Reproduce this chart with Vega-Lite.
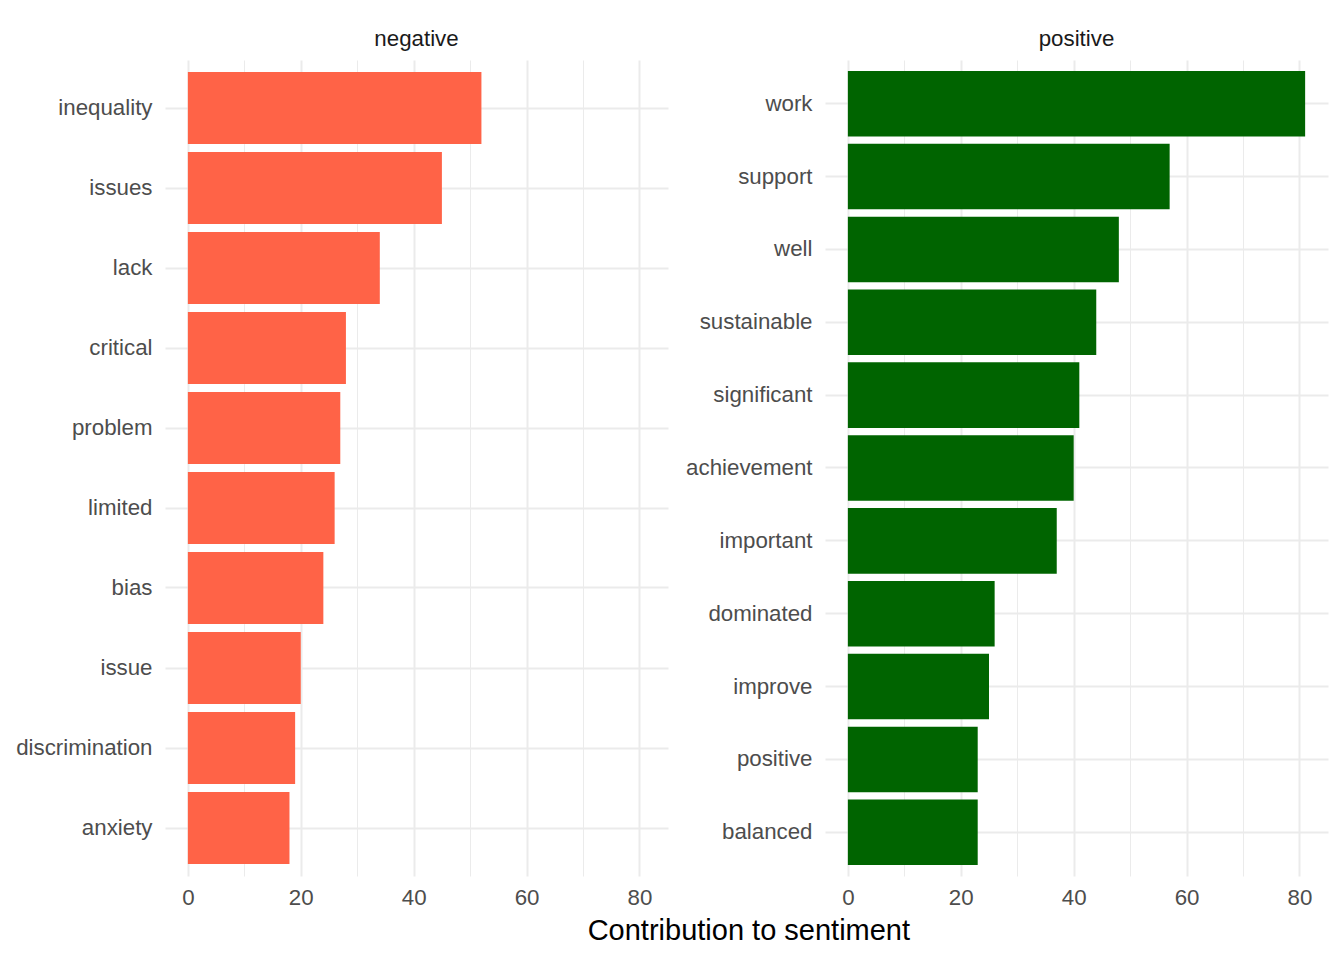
{
  "$schema": "https://vega.github.io/schema/vega-lite/v6.json",
  "padding": {"left": 15, "top": 27, "right": 10, "bottom": 10},
  "background": "white",
  "data": {"values": [
    {"sentiment": "negative", "word": "inequality", "n": 52},
    {"sentiment": "negative", "word": "issues", "n": 45},
    {"sentiment": "negative", "word": "lack", "n": 34},
    {"sentiment": "negative", "word": "critical", "n": 28},
    {"sentiment": "negative", "word": "problem", "n": 27},
    {"sentiment": "negative", "word": "limited", "n": 26},
    {"sentiment": "negative", "word": "bias", "n": 24},
    {"sentiment": "negative", "word": "issue", "n": 20},
    {"sentiment": "negative", "word": "discrimination", "n": 19},
    {"sentiment": "negative", "word": "anxiety", "n": 18},
    {"sentiment": "positive", "word": "work", "n": 81},
    {"sentiment": "positive", "word": "support", "n": 57},
    {"sentiment": "positive", "word": "well", "n": 48},
    {"sentiment": "positive", "word": "sustainable", "n": 44},
    {"sentiment": "positive", "word": "significant", "n": 41},
    {"sentiment": "positive", "word": "achievement", "n": 40},
    {"sentiment": "positive", "word": "important", "n": 37},
    {"sentiment": "positive", "word": "dominated", "n": 26},
    {"sentiment": "positive", "word": "improve", "n": 25},
    {"sentiment": "positive", "word": "positive", "n": 23},
    {"sentiment": "positive", "word": "balanced", "n": 23}
  ]},
  "facet": {
    "column": {
      "field": "sentiment", "type": "nominal", "sort": ["negative", "positive"],
      "header": {"title": null, "labelFontSize": 22.3, "labelColor": "#1a1a1a", "labelFont": "Liberation Sans", "labelPadding": 10}
    }
  },
  "spacing": 17,
  "resolve": {"scale": {"y": "independent"}, "axis": {"y": "independent"}},
  "spec": {
    "width": 503,
    "height": 816,
    "mark": {"type": "bar"},
    "encoding": {
      "y": {
        "field": "word", "type": "nominal", "sort": null,
        "scale": {"paddingInner": 0.1, "paddingOuter": 0.15},
        "axis": {
          "title": null, "ticks": false, "domain": false, "labelPadding": 13,
          "labelFontSize": 22.3, "labelColor": "#4d4d4d", "labelFont": "Liberation Sans",
          "grid": true, "gridColor": "#ebebeb", "gridWidth": 2, "bandPosition": 0.5
        }
      },
      "x": {
        "field": "n", "type": "quantitative",
        "scale": {"domain": [-4.05, 85.05], "nice": false, "zero": false},
        "axis": {
          "title": null, "ticks": false, "domain": false, "labelPadding": 10,
          "values": [0, 10, 20, 30, 40, 50, 60, 70, 80],
          "labelExpr": "datum.value % 20 === 0 ? datum.label : ''",
          "labelFontSize": 22.3, "labelColor": "#4d4d4d", "labelFont": "Liberation Sans",
          "grid": true, "gridColor": "#ebebeb",
          "gridWidth": {"condition": {"test": "datum.value % 20 === 0", "value": 2}, "value": 1}
        }
      },
      "color": {
        "field": "sentiment", "type": "nominal",
        "scale": {"domain": ["negative", "positive"], "range": ["#FF6347", "#006400"]},
        "legend": null
      }
    }
  },
  "title": {
    "text": "Contribution to sentiment", "orient": "bottom", "anchor": "middle",
    "fontSize": 29, "fontWeight": "normal", "color": "#000000", "font": "Liberation Sans",
    "offset": 9, "dx": 77
  },
  "config": {"view": {"stroke": null}}
}
